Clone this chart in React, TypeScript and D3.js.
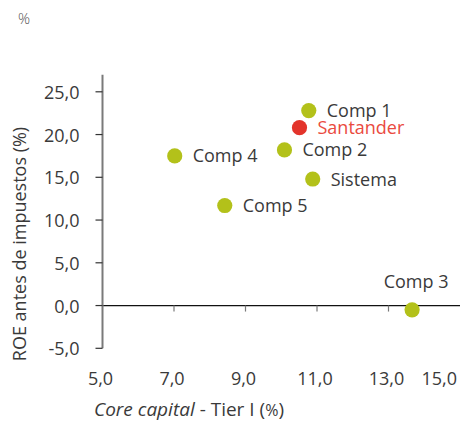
import React from "react";
import * as d3 from "d3";

// Scatter: capital ratio vs. pre-tax ROE for the peer group
const names = ["Comp 1", "Santander", "Comp 2", "Comp 4", "Sistema", "Comp 5", "Comp 3"];
const coreCapital = [10.77, 10.51, 10.09, 7.02, 10.88, 8.42, 13.66];
const roe = [22.8, 20.8, 18.2, 17.5, 14.8, 11.7, -0.5];
const highlight = ["Santander"];

const xTicks = [5, 7, 9, 11, 13, 15];
const yTicks = [-5, 0, 5, 10, 15, 20, 25];

const W = 460;
const H = 422;
const FONT = "'Open Sans', sans-serif";
const TEXT = "#3a3a3a";
const GREEN = "#b3c11a";
const RED = "#e3342b";
const RED_TEXT = "#ea4a40";
const AXIS = "#7a7a7a";

const fmt = (v: number) => v.toFixed(1).replace(".", ",");

export default function App() {
  const x = d3.scaleLinear().domain([5, 15]).range([102.5, 460]);
  const y = d3.scaleLinear().domain([-5, 27]).range([348.3, 74.7]);
  const axisX = x(5);

  const points = names.map((n, i) => ({ name: n, cx: x(coreCapital[i]), cy: y(roe[i]) }));

  return (
    <svg
      width={W}
      height={H}
      style={{ position: "absolute", left: 0, top: 0, background: "#fff" }}
      fontFamily={FONT}
    >
      <text x={18} y={24} fontSize={15} fill="#555" fontWeight={300}>
        %
      </text>

      {/* zero line with x ticks */}
      <line x1={axisX} x2={x(15)} y1={y(0)} y2={y(0)} stroke="#111" strokeWidth={1.2} />
      {xTicks.slice(1, -1).map((t) => (
        <line key={t} x1={x(t)} x2={x(t)} y1={y(0)} y2={y(0) + 6} stroke={AXIS} strokeWidth={1.2} />
      ))}

      {/* y axis */}
      <line x1={axisX} x2={axisX} y1={y(27)} y2={y(-5)} stroke={AXIS} strokeWidth={2} />
      {yTicks.map((t) => (
        <g key={t}>
          <line x1={axisX - 7} x2={axisX} y1={y(t)} y2={y(t)} stroke="#333" strokeWidth={1.2} />
          <text x={79.5} y={y(t) + 7} textAnchor="end" fontSize={18} fill={TEXT}>
            {fmt(t)}
          </text>
        </g>
      ))}

      {/* x tick labels */}
      {xTicks.map((t, i) => (
        <text
          key={t}
          x={i === xTicks.length - 1 ? x(t) - 3 : x(t) - 2}
          y={385}
          textAnchor={i === xTicks.length - 1 ? "end" : "middle"}
          fontSize={18}
          fill={TEXT}
        >
          {fmt(t)}
        </text>
      ))}

      {/* axis titles */}
      <text
        transform={`translate(26,244) rotate(-90)`}
        textAnchor="middle"
        fontSize={18}
        fill={TEXT}
      >
        ROE antes de impuestos (%)
      </text>
      <text x={94} y={416} fontSize={19} fill={TEXT}>
        <tspan fontStyle="italic">Core capital</tspan>
        <tspan> - Tier I (</tspan>
        <tspan fontSize={16}>%</tspan>
        <tspan>)</tspan>
      </text>

      {/* points and labels */}
      {points.map((p) => {
        const hi = highlight.includes(p.name);
        const above = p.cy > y(3);
        return (
          <g key={p.name}>
            <circle cx={p.cx} cy={p.cy} r={7.6} fill={hi ? RED : GREEN} />
            <text
              x={above ? p.cx + 4 : p.cx + 18}
              y={above ? p.cy - 22 : p.cy + 6.5}
              textAnchor={above ? "middle" : "start"}
              fontSize={18}
              fill={hi ? RED_TEXT : TEXT}
            >
              {p.name}
            </text>
          </g>
        );
      })}
    </svg>
  );
}
